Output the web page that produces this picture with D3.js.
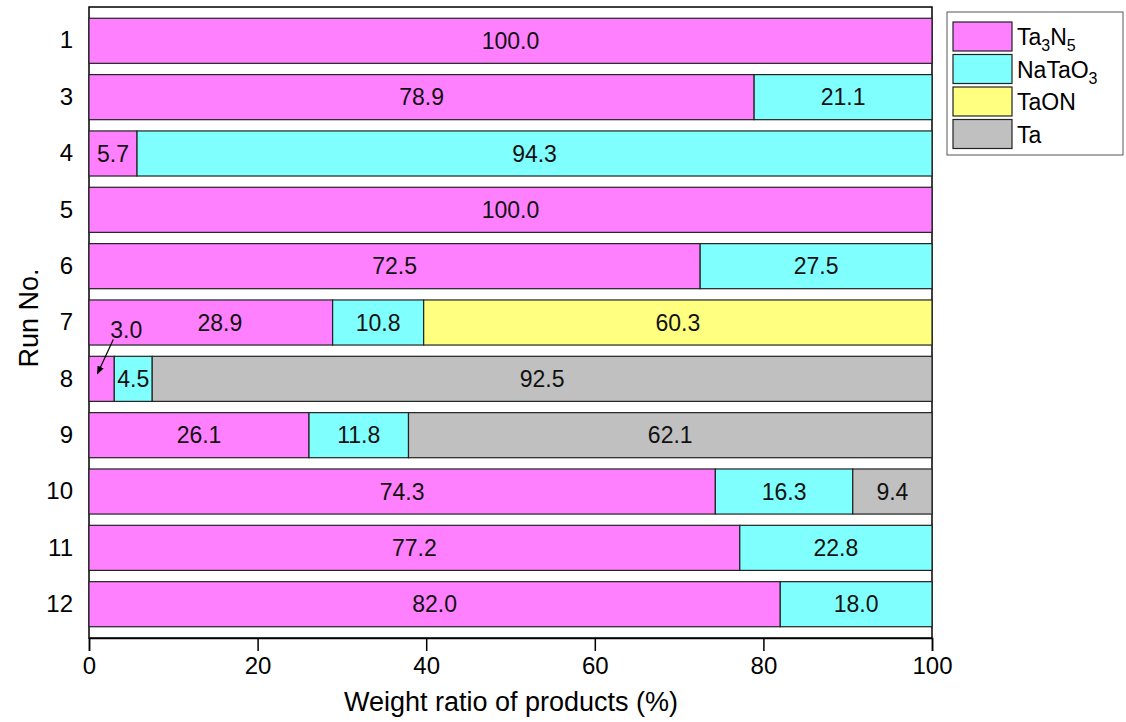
<!DOCTYPE html>
<html>
<head>
  <meta charset="utf-8">
  <script src="https://unpkg.com/d3@7/dist/d3.min.js"></script>
  <style>
    body { margin: 0; background: #fff; }
    text { font-family: "Liberation Sans", Arial, sans-serif; }
  </style>
</head>
<body>
<div id="chart"></div>
<script>
  // runs and the weight ratio (%) of each product
  var runs = ["1", "3", "4", "5", "6", "7", "8", "9", "10", "11", "12"];
  var ta3n5  = [100.0, 78.9, 5.7, 100.0, 72.5, 28.9, 3.0, 26.1, 74.3, 77.2, 82.0];
  var natao3 = [0, 21.1, 94.3, 0, 27.5, 10.8, 4.5, 11.8, 16.3, 22.8, 18.0];
  var taon   = [0, 0, 0, 0, 0, 60.3, 0, 0, 0, 0, 0];
  var ta     = [0, 0, 0, 0, 0, 0, 92.5, 62.1, 9.4, 0, 0];
  var xTicks = [0, 20, 40, 60, 80, 100];

  var seriesNames = ["Ta3N5", "NaTaO3", "TaON", "Ta"];
  var colors = ["#ff80ff", "#80ffff", "#ffff80", "#c0c0c0"];

  var width = 1126, height = 722;
  var mLeft = 89, mRight = 932, mTop = 7, mBottom = 638;

  var svg = d3.select("#chart").append("svg")
    .attr("width", width).attr("height", height);

  var x = d3.scaleLinear().domain([0, 100]).range([mLeft, mRight]);
  var y = d3.scaleBand().domain(runs).range([mTop, mBottom]).padding(0.2);

  // build the table for the stack
  var table = runs.map(function(r, i) {
    return { run: r, Ta3N5: ta3n5[i], NaTaO3: natao3[i], TaON: taon[i], Ta: ta[i] };
  });
  var stack = d3.stack().keys(seriesNames)(table);

  // plot frame
  svg.append("rect")
    .attr("x", mLeft).attr("y", mTop)
    .attr("width", mRight - mLeft).attr("height", mBottom - mTop)
    .attr("fill", "none").attr("stroke", "#000").attr("stroke-width", 1.5);

  stack.forEach(function(layer, k) {
    var g = svg.append("g");
    layer.forEach(function(d) {
      var w = d[1] - d[0];
      if (w <= 0) return;
      g.append("rect")
        .attr("x", x(d[0]))
        .attr("y", y(d.data.run))
        .attr("width", x(d[1]) - x(d[0]))
        .attr("height", y.bandwidth())
        .attr("fill", colors[k])
        .attr("stroke", "#222")
        .attr("stroke-width", 1.2);
      // run 8 Ta3N5 label is placed outside with an arrow
      if (d.data.run === "8" && k === 0) return;
      var cx = (x(d[0]) + x(d[1])) / 2;
      if (d.data.run === "7" && k === 0) cx += 9;
      g.append("text")
        .attr("x", cx)
        .attr("y", y(d.data.run) + y.bandwidth() / 2)
        .attr("dy", "0.36em")
        .attr("text-anchor", "middle")
        .attr("font-size", 23)
        .attr("fill", "#111")
        .text(w.toFixed(1));
    });
  });

  // label + arrow for run 8 Ta3N5
  svg.append("defs").append("marker")
    .attr("id", "arrow").attr("viewBox", "0 0 10 10")
    .attr("refX", 9).attr("refY", 5)
    .attr("markerWidth", 7).attr("markerHeight", 7)
    .attr("orient", "auto")
    .append("path").attr("d", "M0,1 L10,5 L0,9 z").attr("fill", "#000");
  var y7 = y("7") + y.bandwidth() / 2, y8 = y("8") + y.bandwidth() / 2;
  svg.append("text")
    .attr("x", x(3.0) + 12).attr("y", y7 + 15)
    .attr("text-anchor", "middle").attr("font-size", 23)
    .attr("fill", "#111")
    .text(ta3n5[6].toFixed(1));
  svg.append("line")
    .attr("x1", x(3.0) - 1).attr("y1", y7 + 17)
    .attr("x2", x(1.0)).attr("y2", y8 - 5)
    .attr("stroke", "#000").attr("stroke-width", 1.2)
    .attr("marker-end", "url(#arrow)");

  // x axis
  var xAxis = svg.append("g")
    .attr("transform", "translate(0," + mBottom + ")")
    .call(d3.axisBottom(x).tickValues(xTicks).tickSize(13).tickPadding(6).tickFormat(d3.format("d")));
  xAxis.select(".domain").attr("stroke-width", 1.5);
  xAxis.selectAll(".tick line").attr("stroke-width", 1.5);
  xAxis.selectAll("text").attr("font-size", 24).attr("fill", "#000")
    .style("font-family", "Liberation Sans, Arial, sans-serif");

  // y axis labels (no tick marks)
  var yAxis = svg.append("g")
    .attr("transform", "translate(" + mLeft + ",0)")
    .call(d3.axisLeft(y).tickSize(0).tickPadding(16));
  yAxis.select(".domain").remove();
  yAxis.selectAll("text").attr("font-size", 24).attr("fill", "#000")
    .style("font-family", "Liberation Sans, Arial, sans-serif");

  // axis titles
  svg.append("text")
    .attr("x", 511).attr("y", 711)
    .attr("text-anchor", "middle").attr("font-size", 27)
    .text("Weight ratio of products (%)");
  svg.append("text")
    .attr("transform", "translate(38,318) rotate(-90)")
    .attr("text-anchor", "middle").attr("font-size", 27)
    .text("Run No.");

  // legend
  var lg = svg.append("g");
  lg.append("rect")
    .attr("x", 947).attr("y", 12).attr("width", 176).attr("height", 143)
    .attr("fill", "#fff").attr("stroke", "#555").attr("stroke-width", 1);
  var legendLabels = [
    [["Ta", 0], ["3", 1], ["N", 0], ["5", 1]],
    [["NaTaO", 0], ["3", 1]],
    [["TaON", 0]],
    [["Ta", 0]]
  ];
  seriesNames.forEach(function(s, i) {
    var yy = 22 + i * 32.5;
    lg.append("rect")
      .attr("x", 953).attr("y", yy).attr("width", 59).attr("height", 29)
      .attr("fill", colors[i]).attr("stroke", "#222").attr("stroke-width", 1.2);
    var t = lg.append("text")
      .attr("x", 1017).attr("y", yy + 23).attr("font-size", 23);
    legendLabels[i].forEach(function(p, j) {
      var sp = t.append("tspan").text(p[0]);
      if (p[1]) sp.attr("font-size", 16).attr("dy", 6);
      else if (j > 0) sp.attr("dy", -6);
    });
  });
</script>
</body>
</html>
